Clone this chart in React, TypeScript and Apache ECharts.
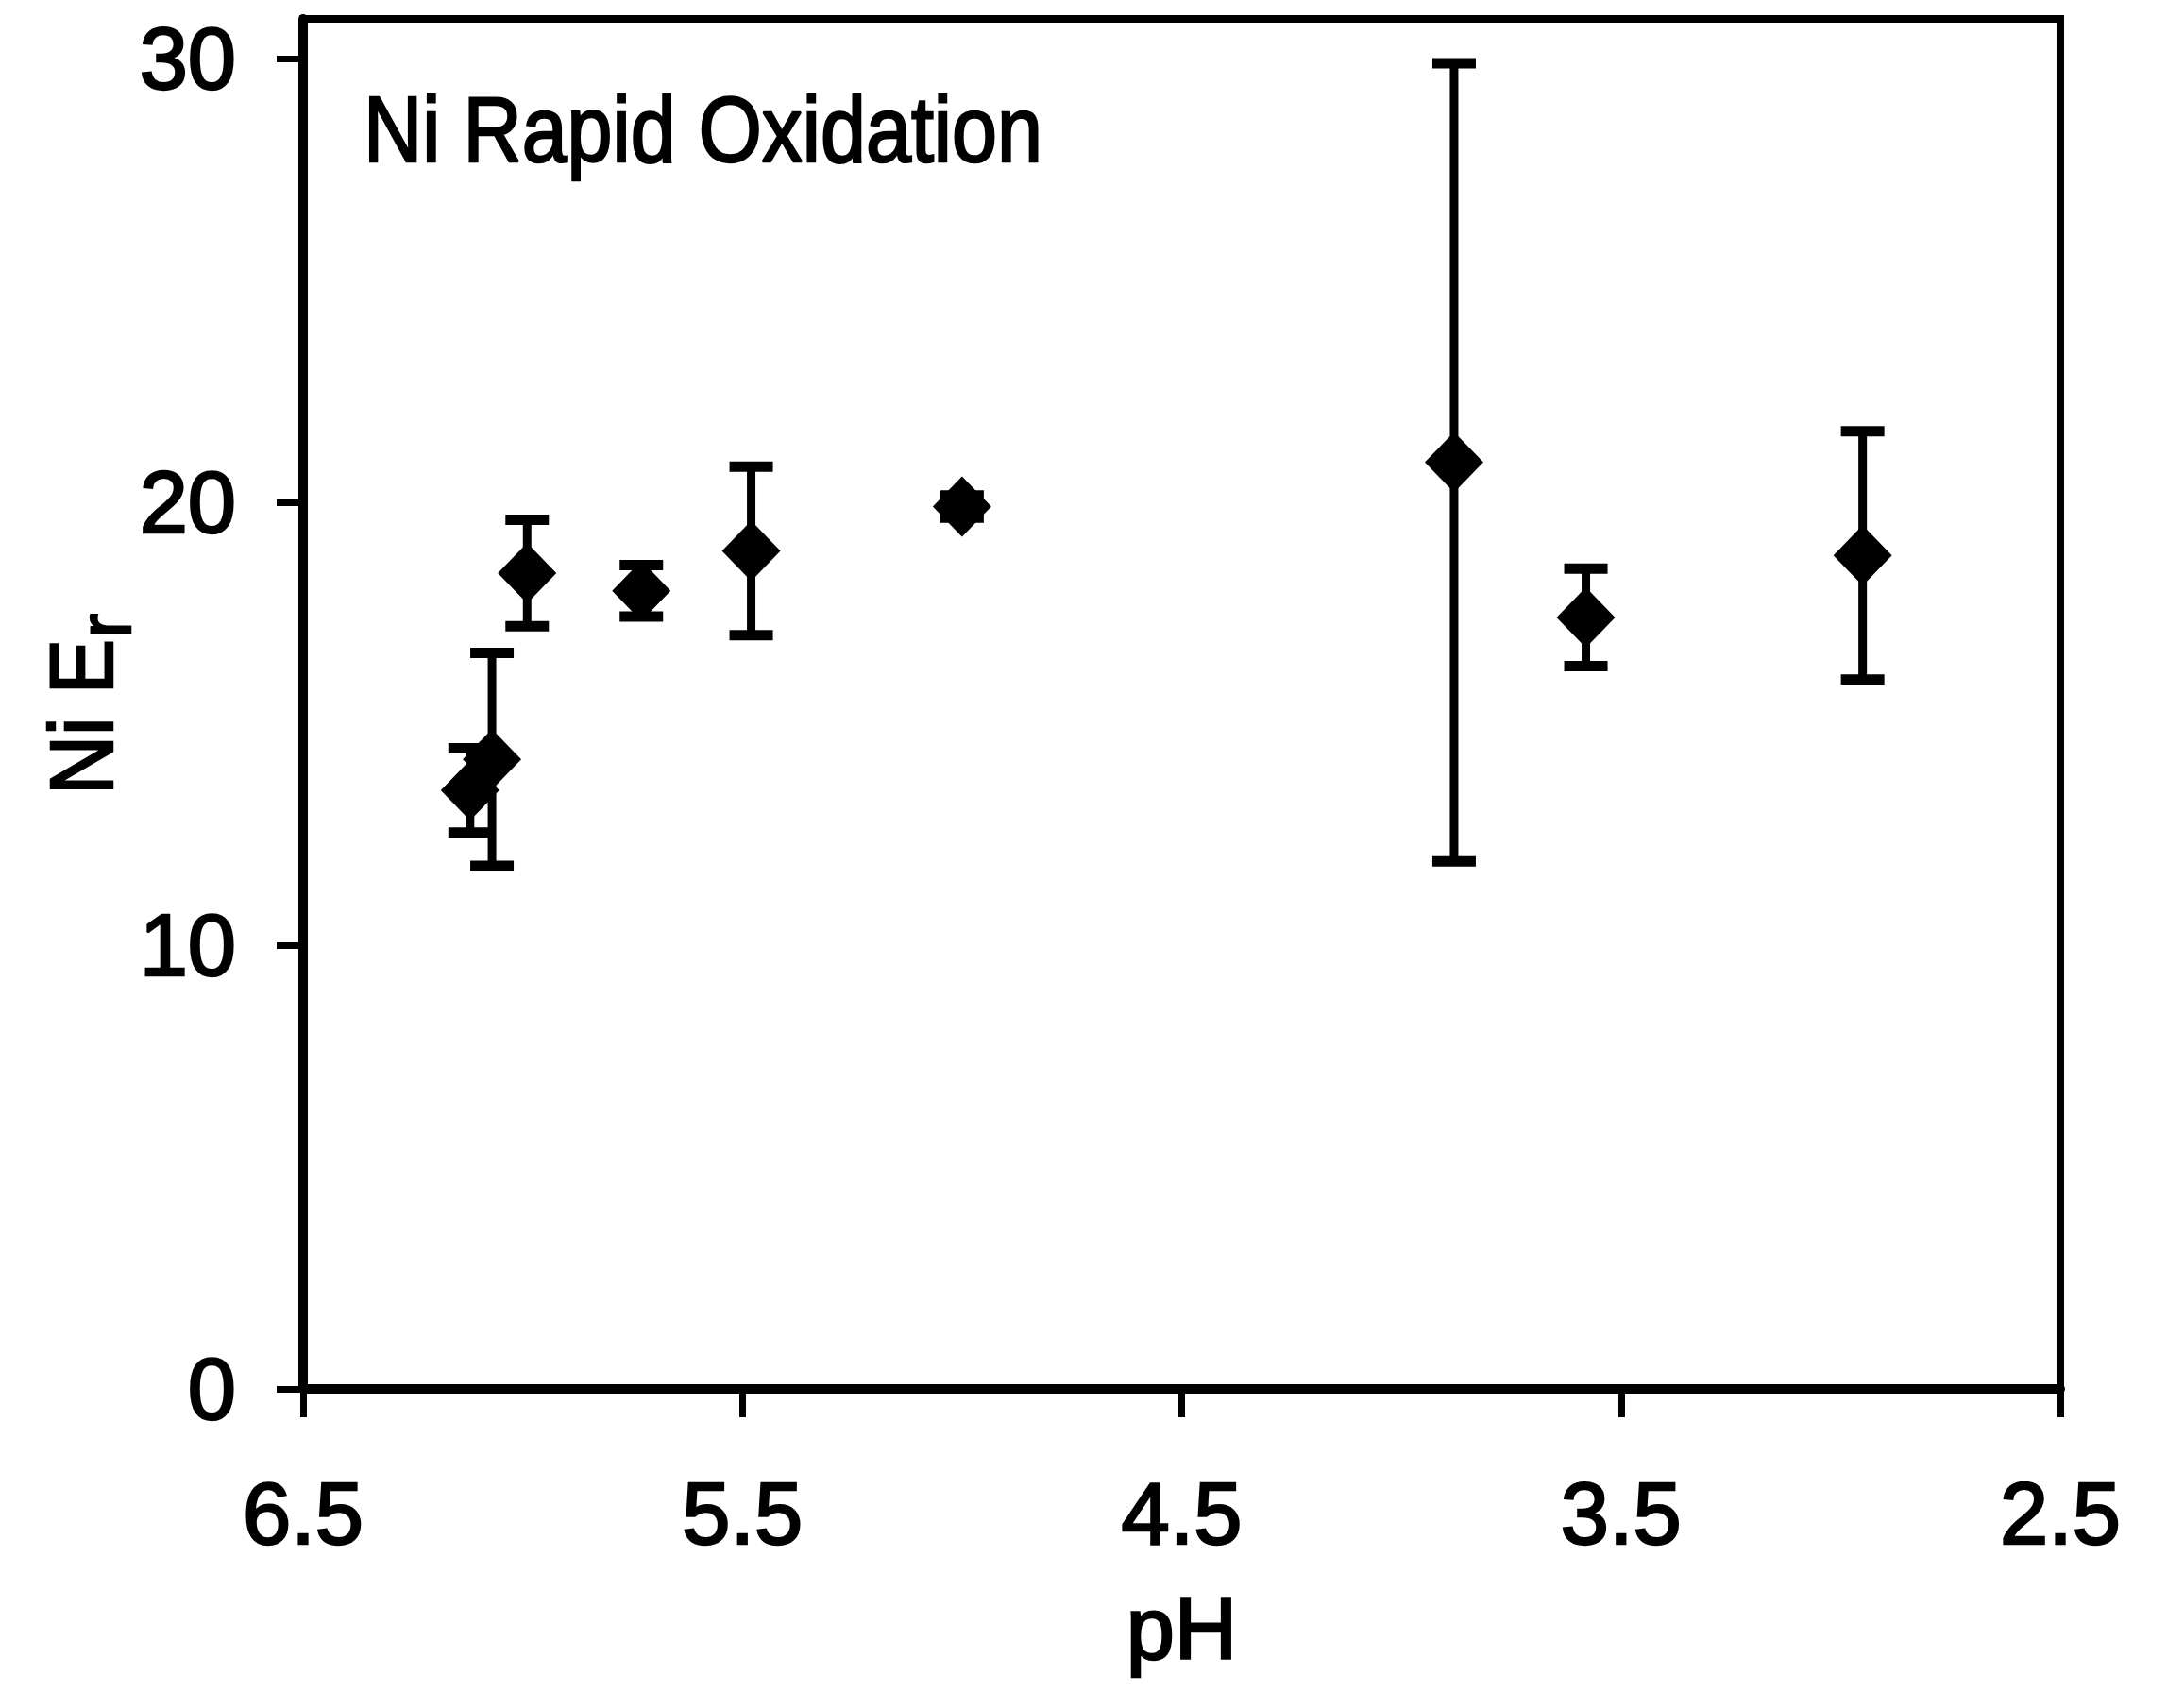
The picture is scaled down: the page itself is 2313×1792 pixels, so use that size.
import React, { useEffect, useRef } from "react";
import * as echarts from "echarts";

// pH values of each sample
const phValues = [6.12, 6.07, 5.99, 5.73, 5.48, 5.0, 3.88, 3.58, 2.95];
// Ni E_r mean values
const erValues = [13.5, 14.2, 18.4, 18.0, 18.9, 19.9, 20.9, 17.4, 18.8];
// error bar half-widths
const erErrors = [0.95, 2.4, 1.2, 0.58, 1.9, 0.25, 9.0, 1.1, 2.8];

const xTicks = [2.5, 3.5, 4.5, 5.5, 6.5];
const yTicks = [0, 10, 20, 30];

const FONT = "'Liberation Sans', Arial, Helvetica, sans-serif";
const THICK = { textBorderColor: "#000", textBorderWidth: 2.5 };

export default function App() {
  const ref = useRef<HTMLDivElement>(null);

  useEffect(() => {
    if (!ref.current) return;
    const chart = echarts.init(ref.current, undefined, { renderer: "svg" });

    const points = phValues.map((p, i) => [p, erValues[i]]);
    const bars = phValues.map((p, i) => [p, erValues[i] - erErrors[i], erValues[i] + erErrors[i]]);

    const option: any = {
      animation: false,
      backgroundColor: "#ffffff",
      grid: {
        left: 313,
        right: 123,
        top: 12,
        bottom: 313,
        show: true,
        borderColor: "#000",
        borderWidth: 8,
        backgroundColor: "transparent",
      },
      xAxis: {
        type: "value",
        min: 2.5,
        max: 6.5,
        inverse: true,
        splitLine: { show: false },
        axisLine: { show: true, onZero: false, lineStyle: { color: "#000", width: 10 } },
        axisTick: {
          show: true,
          inside: false,
          length: 30,
          customValues: xTicks,
          lineStyle: { color: "#000", width: 7 },
        },
        axisLabel: {
          customValues: xTicks,
          margin: 86,
          fontSize: 92,
          fontFamily: FONT,
          color: "#000",
          ...THICK,
          formatter: (v: number) => v.toFixed(1),
        },
        name: "pH",
        nameLocation: "middle",
        nameGap: 208,
        nameTextStyle: { fontSize: 92, fontFamily: FONT, color: "#000", ...THICK },
      },
      yAxis: {
        type: "value",
        min: 0,
        max: 30.9,
        splitLine: { show: false },
        axisLine: { show: true, lineStyle: { color: "#000", width: 10 } },
        axisTick: {
          show: true,
          inside: false,
          length: 28,
          customValues: yTicks,
          lineStyle: { color: "#000", width: 7 },
        },
        axisLabel: {
          customValues: yTicks,
          margin: 71,
          fontSize: 92,
          fontFamily: FONT,
          color: "#000",
          ...THICK,
        },
      },
      graphic: [
        {
          type: "text",
          x: 377,
          y: 129,
          scaleX: 0.88,
          style: {
            text: "Ni Rapid Oxidation",
            fontSize: 98,
            fontFamily: FONT,
            fill: "#000",
            stroke: "#000",
            lineWidth: 2.5,
            textAlign: "left",
            textVerticalAlign: "middle",
          },
        },
        {
          type: "text",
          x: 78,
          y: 834,
          rotation: Math.PI / 2,
          scaleX: 0.93,
          style: {
            text: "Ni E",
            fontSize: 94,
            fontFamily: FONT,
            fill: "#000",
            stroke: "#000",
            lineWidth: 2.5,
            textAlign: "left",
            textVerticalAlign: "middle",
          },
        },
        {
          type: "text",
          x: 103,
          y: 668,
          rotation: Math.PI / 2,
          style: {
            text: "r",
            fontSize: 78,
            fontFamily: FONT,
            fill: "#000",
            stroke: "#000",
            lineWidth: 2.5,
            textAlign: "left",
            textVerticalAlign: "middle",
          },
        },
      ],
      series: [
        {
          type: "custom",
          data: bars,
          encode: { x: 0, y: [1, 2] },
          z: 2,
          renderItem: (params: any, api: any) => {
            const x = api.value(0);
            const lo = api.coord([x, api.value(1)]);
            const hi = api.coord([x, api.value(2)]);
            const hw = 23;
            return {
              type: "group",
              children: [
                { type: "line", shape: { x1: lo[0], y1: lo[1], x2: hi[0], y2: hi[1] }, style: { stroke: "#000", lineWidth: 9 } },
                { type: "line", shape: { x1: lo[0] - hw, y1: lo[1], x2: lo[0] + hw, y2: lo[1] }, style: { stroke: "#000", lineWidth: 11 } },
                { type: "line", shape: { x1: hi[0] - hw, y1: hi[1], x2: hi[0] + hw, y2: hi[1] }, style: { stroke: "#000", lineWidth: 11 } },
              ],
            };
          },
        },
        {
          type: "scatter",
          data: points,
          symbol: "diamond",
          symbolSize: [62, 64],
          itemStyle: { color: "#000", opacity: 1 },
          z: 3,
        },
      ],
    };

    chart.setOption(option);
    return () => chart.dispose();
  }, []);

  return <div ref={ref} style={{ width: 2297, height: 1776 }} />;
}
